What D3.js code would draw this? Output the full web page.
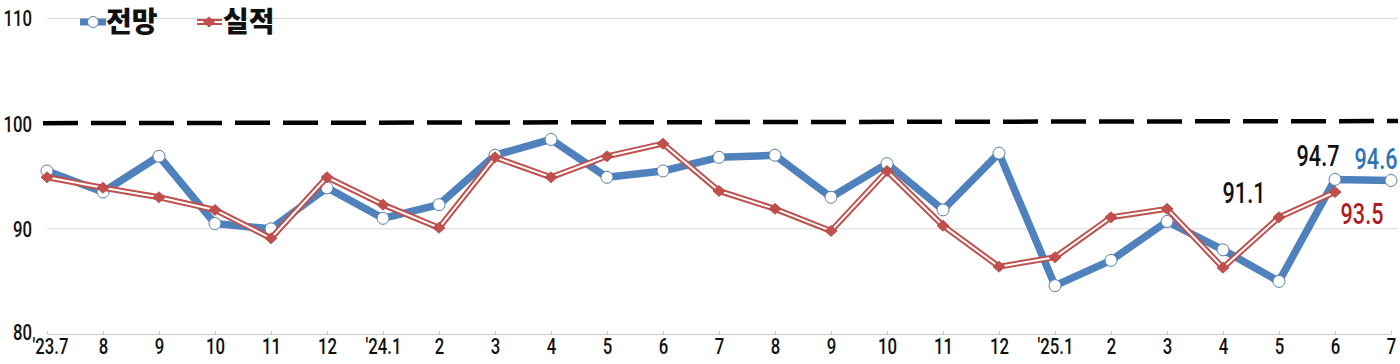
<!DOCTYPE html>
<html>
<head>
<meta charset="utf-8">
<script src="https://cdn.jsdelivr.net/npm/d3@7"></script>
<style>
  body { margin: 0; background: #fff; }
  svg { display: block; }
  .num { font-family: Roboto, "Liberation Sans", sans-serif; font-weight: 500; }
</style>
</head>
<body>
<div class="stage"></div>
<script>
// month labels, '23.7 .. '25.7
var months = ["'23.7","8","9","10","11","12","'24.1","2","3","4","5","6","7","8","9","10","11","12","'25.1","2","3","4","5","6","7"];
// 전망 (outlook)
var outlook = [95.5,93.5,96.9,90.5,90.0,93.9,91.0,92.3,97.0,98.5,94.9,95.5,96.8,97.0,93.0,96.2,91.8,97.2,84.6,87.0,90.7,88.0,85.0,94.7,94.6];
// 실적 (actual)
var actual = [94.9,93.9,93.0,91.8,89.1,94.9,92.3,90.1,96.8,94.9,96.9,98.1,93.6,91.9,89.8,95.5,90.3,86.4,87.3,91.1,91.9,86.3,91.1,93.5];
var yTicks = [80,90,100,110];
var seriesNames = ["전망","실적"];

var W = 1400, H = 364;
var blue = "#4f81bd", red = "#c0504d";
var squeeze = "scale(0.76,1)";

var svg = d3.select(".stage")
  .append("svg")
  .attr("width", W)
  .attr("height", H);

var x = d3.scalePoint()
  .domain(d3.range(months.length))
  .range([47, 1391]);

var y = d3.scaleLinear()
  .domain([80, 110])
  .range([334, 18.5]);

// grid lines
svg.append("g")
  .selectAll("line")
  .data(yTicks.filter(function(d){ return d !== 80 && d !== 100 }))
  .join("line")
  .attr("x1", 47)
  .attr("x2", 1398)
  .attr("y1", function(d){ return y(d) })
  .attr("y2", function(d){ return y(d) })
  .attr("stroke", "#d9d9d9")
  .attr("stroke-width", 1);

// y labels
svg.append("g")
  .selectAll("text")
  .data(yTicks)
  .join("text")
  .attr("class", "num")
  .attr("transform", function(d){ return "translate(32," + (y(d) - (d === 80 ? 2 : 0)) + ")" + squeeze })
  .attr("dy", "0.36em")
  .attr("text-anchor", "end")
  .style("font-size", "22px")
  .style("fill", "#111")
  .text(function(d){ return d });

// x axis
var xAxis = d3.axisBottom(x)
  .tickSizeInner(-3)
  .tickSizeOuter(0)
  .tickPadding(4)
  .tickFormat(function(i){ return months[i] });

var ax = svg.append("g")
  .attr("transform", "translate(0," + y(80) + ")")
  .call(xAxis);
ax.select(".domain").attr("stroke", "#c8c8c8");
ax.selectAll(".tick line").attr("stroke", "#c8c8c8");
ax.selectAll(".tick text")
  .attr("class", "num")
  .attr("transform", function(i){ return (i === 0 ? "translate(3,0)" : "") + squeeze })
  .style("font-size", "22px")
  .style("fill", "#111");

// reference line at 100
svg.append("line")
  .attr("x1", 43)
  .attr("x2", 1398)
  .attr("y1", y(100) - 0.5)
  .attr("y2", y(100.25))
  .attr("stroke", "#000")
  .attr("stroke-width", 4.5)
  .attr("stroke-dasharray", "35,13");

var line = d3.line()
  .x(function(d, i){ return x(i) })
  .y(function(d){ return y(d) });

// 전망
svg.append("path")
  .datum(outlook)
  .attr("d", line)
  .attr("fill", "none")
  .attr("stroke", blue)
  .attr("stroke-width", 7.5)
  .attr("stroke-linejoin", "round");

svg.append("g")
  .selectAll("circle")
  .data(outlook)
  .join("circle")
  .attr("cx", function(d, i){ return x(i) })
  .attr("cy", function(d){ return y(d) })
  .attr("r", 6)
  .attr("fill", "#fff")
  .attr("stroke", "#5b7fae")
  .attr("stroke-width", 1);

// 실적 (double line)
svg.append("path")
  .datum(actual)
  .attr("d", line)
  .attr("fill", "none")
  .attr("stroke", red)
  .attr("stroke-width", 6)
  .attr("stroke-linejoin", "miter");
svg.append("path")
  .datum(actual)
  .attr("d", line)
  .attr("fill", "none")
  .attr("stroke", "#fff")
  .attr("stroke-width", 2)
  .attr("stroke-linejoin", "miter");

var diamond = "M0,-5.5L6,0L0,5.5L-6,0Z";
svg.append("g")
  .selectAll("path")
  .data(actual)
  .join("path")
  .attr("d", diamond)
  .attr("transform", function(d, i){ return "translate(" + x(i) + "," + y(d) + ")" })
  .attr("fill", red)
  .attr("stroke", "#b8423f")
  .attr("stroke-width", 0.8);

// value labels
var last = outlook.length - 1;
var labels = [
  {t: outlook[last - 1].toFixed(1), x: x(last - 1) - 17, y: y(outlook[last - 1]) - 13, c: "#111"},
  {t: outlook[last].toFixed(1), x: x(last) - 15, y: y(outlook[last]) - 11, c: "#2e75b6"},
  {t: actual[last - 2].toFixed(1), x: x(last - 2) - 35, y: y(actual[last - 2]) - 14, c: "#111"},
  {t: actual[last - 1].toFixed(1), x: x(last - 1) + 27, y: y(actual[last - 1]) + 32, c: "#b01c22"}
];
svg.append("g")
  .selectAll("text")
  .data(labels)
  .join("text")
  .attr("class", "num")
  .attr("transform", function(d){ return "translate(" + d.x + "," + d.y + ")scale(0.72,1)" })
  .attr("text-anchor", "middle")
  .style("font-size", "30px")
  .style("fill", function(d){ return d.c })
  .text(function(d){ return d.t });

// legend
var lg = svg.append("g").attr("transform", "translate(0,22)");
lg.append("line")
  .attr("x1", 80).attr("x2", 106).attr("y1", 0).attr("y2", 0)
  .attr("stroke", blue).attr("stroke-width", 7);
lg.append("circle")
  .attr("cx", 93).attr("cy", 0).attr("r", 5.5)
  .attr("fill", "#fff").attr("stroke", "#5b7fae");
lg.append("line")
  .attr("x1", 197).attr("x2", 222).attr("y1", 0).attr("y2", 0)
  .attr("stroke", red).attr("stroke-width", 6);
lg.append("line")
  .attr("x1", 197).attr("x2", 222).attr("y1", 0).attr("y2", 0)
  .attr("stroke", "#fff").attr("stroke-width", 2);
lg.append("path")
  .attr("d", diamond)
  .attr("transform", "translate(209,0)")
  .attr("fill", red);
lg.selectAll("text")
  .data(seriesNames)
  .join("text")
  .attr("x", function(d, i){ return i ? 223 : 106 })
  .attr("y", 0)
  .attr("dy", "0.36em")
  .style("font-family", "'Noto Sans CJK KR', sans-serif")
  .style("font-weight", 900)
  .style("font-size", "28px")
  .style("fill", "#111")
  .text(function(d){ return d });
</script>
</body>
</html>
